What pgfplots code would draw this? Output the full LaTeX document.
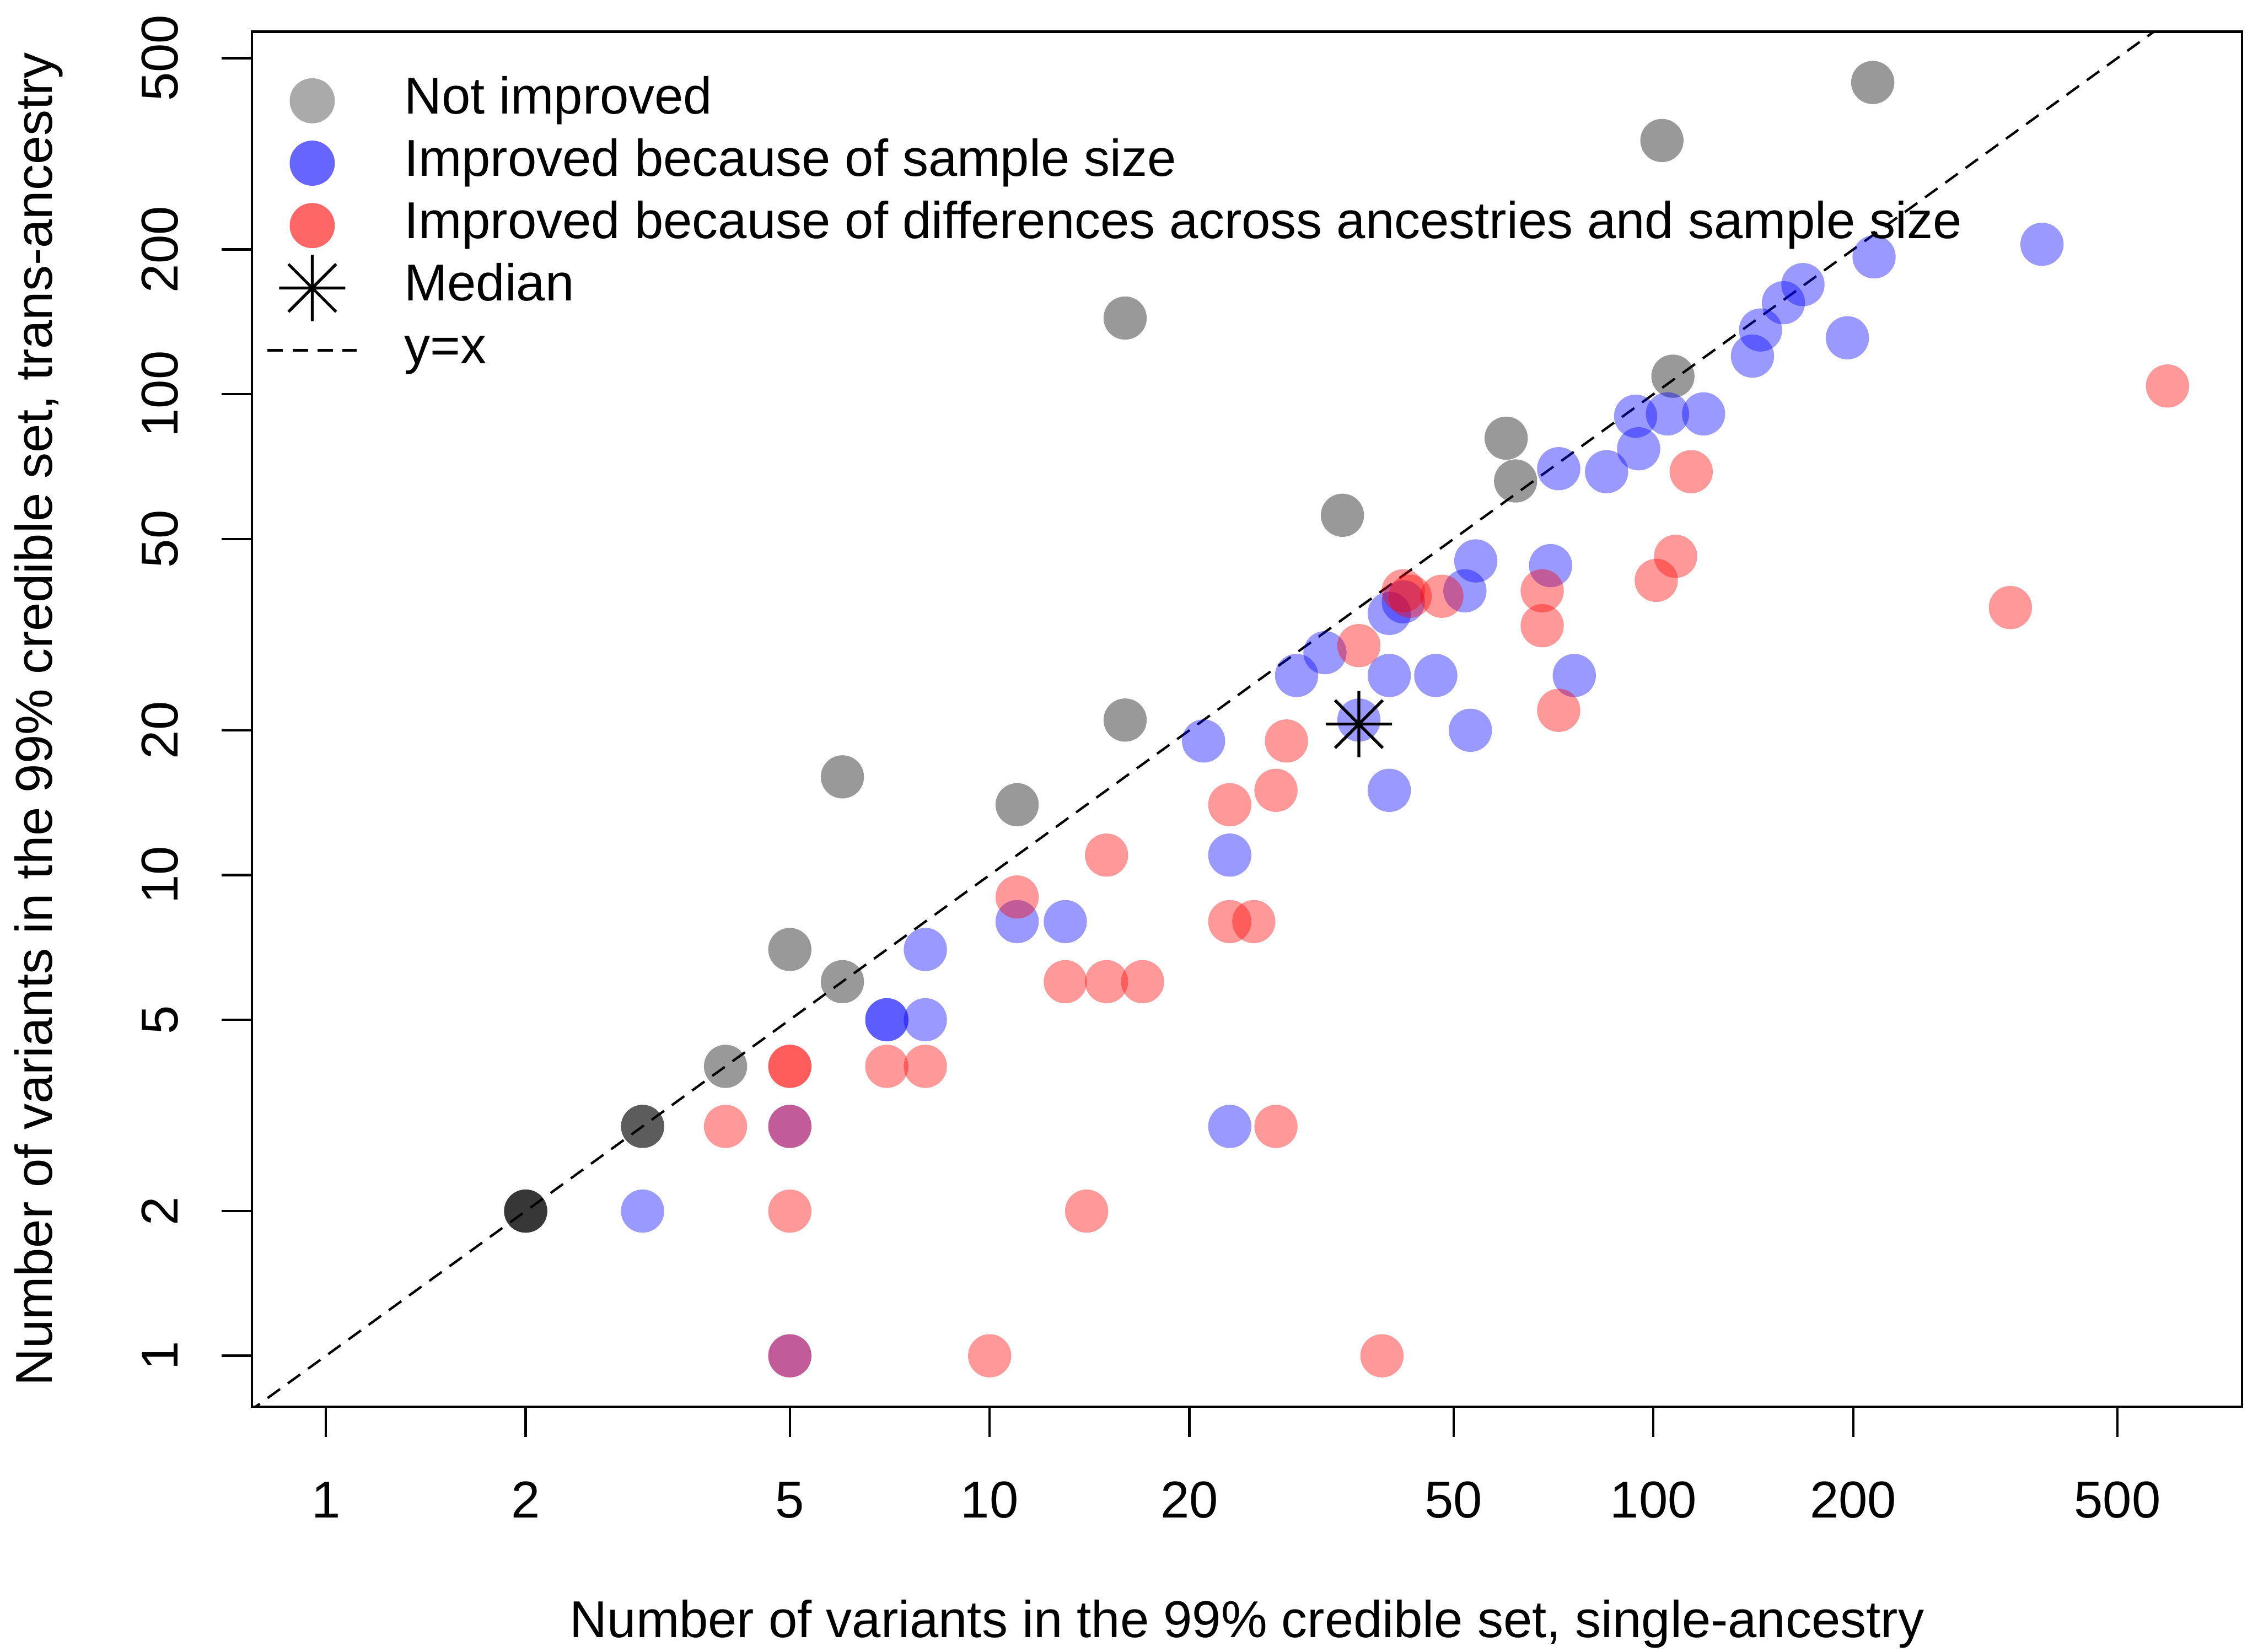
\documentclass[border=0pt]{standalone}
\usepackage{fontspec}
\setmainfont{Liberation Sans}
\usepackage{pgfplots}
\pgfplotsset{compat=1.18}
\definecolor{leggray}{HTML}{AAAAAA}
\definecolor{legblue}{HTML}{6666FF}
\definecolor{legred}{HTML}{FF6666}
\pgfdeclareplotmark{star8}{%
  \pgfpathmoveto{\pgfqpoint{-\pgfplotmarksize}{0pt}}%
  \pgfpathlineto{\pgfqpoint{\pgfplotmarksize}{0pt}}%
  \pgfpathmoveto{\pgfqpoint{0pt}{-\pgfplotmarksize}}%
  \pgfpathlineto{\pgfqpoint{0pt}{\pgfplotmarksize}}%
  \pgfpathmoveto{\pgfqpoint{-0.72\pgfplotmarksize}{-0.72\pgfplotmarksize}}%
  \pgfpathlineto{\pgfqpoint{0.72\pgfplotmarksize}{0.72\pgfplotmarksize}}%
  \pgfpathmoveto{\pgfqpoint{-0.72\pgfplotmarksize}{0.72\pgfplotmarksize}}%
  \pgfpathlineto{\pgfqpoint{0.72\pgfplotmarksize}{-0.72\pgfplotmarksize}}%
  \pgfusepathqstroke}
\pgfdeclareplotmark{fdot}{%
  \pgfpathcircle{\pgfpointorigin}{\pgfplotmarksize}%
  \pgfusepathqfill}

\pgfplotstableread{
x y
214 445
103 337
16 144
107 109
60 81
62 66
34 56
16 21
6 16
11 14
5 7
6 6
4 4
3 3
3 3
2 2
2 2
2 2
}\graydata

\pgfplotstableread{
x y
385 205
215 193
168 169
157 155
145 136
141 120
196 131
94 90
105 91
119 91
95 77
72 70
85 69
54 45
70 44
52 39
40 35
42 37
32 29
29 26
40 26
47 26
76 26
36 21
53 20
21 19
40 15
23 11
11 8
13 8
8 7
7 5
7 5
8 5
23 3
5 3
3 2
5 1
}\bluedata

\pgfplotstableread{
x y
595 104
114 69
108 46
101 41
345 36
42 39
43 38
48 38
68 39
68 33
36 30
72 22
28 19
27 15
23 14
15 11
11 9
23 8
25 8
13 6
15 6
17 6
5 4
5 4
7 4
8 4
4 3
27 3
5 3
5 2
14 2
10 1
39 1
5 1
}\reddata

\begin{document}
\begin{tikzpicture}[font=\fontsize{10.8pt}{13pt}\selectfont]
\begin{axis}[name=ax, scale only axis, width=414.6pt, height=286.5pt,
  xmode=log, ymode=log,
  xmin=0.774, xmax=771, ymin=0.7834, ymax=567.5,
  xtick={1,2,5,10,20,50,100,200,500},
  xticklabels={1,2,5,10,20,50,100,200,500},
  ytick={1,2,5,10,20,50,100,200,500},
  yticklabels={1,2,5,10,20,50,100,200,500},
  minor xtick={}, minor ytick={},
  xtick pos=left, ytick pos=left,
  tick align=outside, major tick length=6.3pt,
  tick style={black, line width=0.5pt},
  axis line style={line width=0.5pt},
  /pgf/number format/assume math mode=true,
  xticklabel shift=9pt, yticklabel shift=9pt,
  xticklabel style={anchor=north, inner sep=0pt, text height=7.7pt, text depth=0pt},
  yticklabel style={rotate=90, anchor=south, inner sep=0pt, text height=7.7pt, text depth=0pt},
  xlabel={Number of variants in the 99\% credible set, single-ancestry},
  ylabel={Number of variants in the 99\% credible set, trans-ancestry},
  xlabel style={at={(axis description cs:0.5,-0.1581)}, anchor=center, inner sep=0pt},
  ylabel style={at={(axis description cs:-0.1071,0.5)}, anchor=center, inner sep=0pt},
  legend cell align=left,
  legend style={draw=none, fill=none, inner sep=0pt, outer sep=0pt,
    column sep=9.6pt, row sep=2.2pt,
    nodes={inner sep=0pt, text height=8.1pt, text depth=2.7pt},
    at={(axis description cs:0,1)}, anchor=north west, xshift=3pt, yshift=-9.0pt},
]
\addlegendimage{legend image code/.code={\fill[leggray] (9.3pt,0pt) circle (4.5pt);}}
\addlegendentry{Not improved}
\addlegendimage{legend image code/.code={\fill[legblue] (9.3pt,0pt) circle (4.5pt);}}
\addlegendentry{Improved because of sample size}
\addlegendimage{legend image code/.code={\fill[legred] (9.3pt,0pt) circle (4.5pt);}}
\addlegendentry{Improved because of differences across ancestries and sample size}
\addlegendimage{legend image code/.code={\draw[overlay, line width=0.6pt, mark=star8, mark size=6.9pt] plot coordinates {(9.3pt,0pt)};\path[draw=none, fill=none] (0pt,-2pt) rectangle (18.6pt,2pt);}}
\addlegendentry{Median}
\addlegendimage{legend image code/.code={\draw[dash pattern=on 3.2pt off 2.0pt, line width=0.5pt] (0pt,0pt) -- (18.6pt,0pt);}}
\addlegendentry{y=x}

\addplot[forget plot, only marks, mark=fdot, mark size=4.5pt, color=black, fill=black, fill opacity=0.4] table[x=x,y=y] {\graydata};
\addplot[forget plot, only marks, mark=fdot, mark size=4.5pt, color=blue, fill=blue, fill opacity=0.4] table[x=x,y=y] {\bluedata};
\addplot[forget plot, only marks, mark=fdot, mark size=4.5pt, color=red, fill=red, fill opacity=0.4] table[x=x,y=y] {\reddata};
\addplot[forget plot, black, line width=0.5pt, dash pattern=on 3.2pt off 2.0pt] coordinates {(0.5,0.5) (1000,1000)};
\addplot[forget plot, only marks, mark=star8, mark size=6.9pt, black,
  mark options={line width=0.6pt}] coordinates {(36,20.6)};
\end{axis}
\path ([xshift=-52.5pt,yshift=-51pt]ax.south west) rectangle ([xshift=3.3pt,yshift=6.6pt]ax.north east);
\end{tikzpicture}
\end{document}
